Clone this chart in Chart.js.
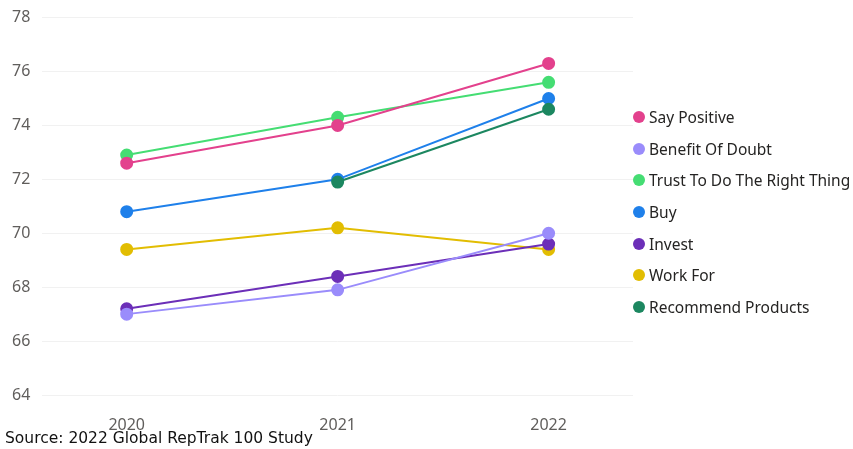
<!DOCTYPE html>
<html>
<head>
<meta charset="utf-8">
<script src="https://cdn.jsdelivr.net/npm/chart.js@4"></script>
<style>
  html, body { margin: 0; padding: 0; background: #fff; }
  #wrap { position: relative; width: 853px; height: 449px; }
  canvas { display: block; }
  #source {
    position: absolute; left: 5px; top: 428px;
    font-family: "DejaVu Sans", sans-serif; font-size: 15.5px; color: #111;
    white-space: nowrap; line-height: 20px;
  }
  #legend {
    position: absolute; left: 633px; top: 101px;
    font-family: "Noto Sans", sans-serif; font-size: 15.5px; color: #252423;
  }
  .item { height: 31.7px; display: flex; align-items: center; white-space: nowrap; }
  .dot { width: 12px; height: 12px; border-radius: 50%; margin-right: 4px; flex: none; }
</style>
</head>
<body>
<div id="wrap">
  <canvas id="chart" width="853" height="449"></canvas>
  <div id="legend"></div>
  <div id="source">Source: 2022 Global RepTrak 100 Study</div>
</div>
<script>
// ---- data
const years = [ 2020, 2021, 2022 ];
const yTicks = [ 64, 66, 68, 70, 72, 74, 76, 78 ];

const sayPositive = [ 72.6, 74.0, 76.3 ];
const benefitOfDoubt = [ 67.0, 67.9, 70.0 ];
const trustRightThing = [ 72.9, 74.3, 75.6 ];
const buy = [ 70.8, 72.0, 75.0 ];
const invest = [ 67.2, 68.4, 69.6 ];
const workFor = [ 69.4, 70.2, 69.4 ];
const recommendProducts = [ null, 71.9, 74.6 ];

const seriesNames = [
	'Say Positive', 'Benefit Of Doubt', 'Trust To Do The Right Thing',
	'Buy', 'Invest', 'Work For', 'Recommend Products'
];
const seriesValues = [
	sayPositive, benefitOfDoubt, trustRightThing,
	buy, invest, workFor, recommendProducts
];
const seriesColors = [
	'#e3418d', '#9a8cfb', '#45dd73', '#1f80ea', '#6c2fb8', '#e2bd02', '#1c8760'
];

// draw order: last in list ends on top
const drawOrder = [ 5, 4, 1, 3, 6, 2, 0 ];

const datasets = seriesNames.map( ( name, i ) => ( {
	label: name,
	data: years.map( ( y, j ) => ( { x: y, y: seriesValues[ i ][ j ] } ) ),
	borderColor: seriesColors[ i ],
	backgroundColor: seriesColors[ i ],
	pointBackgroundColor: seriesColors[ i ],
	pointBorderColor: seriesColors[ i ],
	borderWidth: 2,
	pointRadius: 5.5,
	pointHoverRadius: 5.5,
	spanGaps: false,
	order: drawOrder.length - drawOrder.indexOf( i )
} ) );

new Chart( document.getElementById( 'chart' ), {
	type: 'line',
	data: { datasets },
	options: {
		responsive: false,
		animation: false,
		layout: { padding: { left: 0, right: 220, top: 0, bottom: 0 } },
		plugins: {
			tooltip: { enabled: false },
			legend: { display: false }
		},
		scales: {
			x: {
				type: 'linear',
				min: 2019.6,
				max: 2022.4,
				afterBuildTicks: ( scale ) => {
					scale.ticks = years.map( ( v ) => ( { value: v } ) );
				},
				afterFit: ( scale ) => {
					scale.height = 54;
				},
				grid: { display: false, drawTicks: false },
				border: { display: false },
				ticks: {
					padding: 21,
					maxRotation: 0,
					color: '#605e5c',
					font: { family: '"Noto Sans", sans-serif', size: 16 },
					callback: ( v ) => String( v )
				}
			},
			y: {
				min: 64,
				max: 78,
				afterBuildTicks: ( scale ) => {
					scale.ticks = yTicks.map( ( v ) => ( { value: v } ) );
				},
				grid: { color: '#f1f1f1', drawTicks: false, lineWidth: 1 },
				border: { display: false },
				ticks: {
					padding: 12,
					color: '#605e5c',
					font: { family: '"Noto Sans", sans-serif', size: 16, lineHeight: 0.7 }
				}
			}
		}
	}
} );

// ---- legend
const legendBox = document.getElementById( 'legend' );
seriesNames.forEach( ( name, i ) => {
	const item = document.createElement( 'div' );
	item.className = 'item';
	const dot = document.createElement( 'span' );
	dot.className = 'dot';
	dot.style.background = seriesColors[ i ];
	item.appendChild( dot );
	item.appendChild( document.createTextNode( name ) );
	legendBox.appendChild( item );
} );
</script>
</body>
</html>
